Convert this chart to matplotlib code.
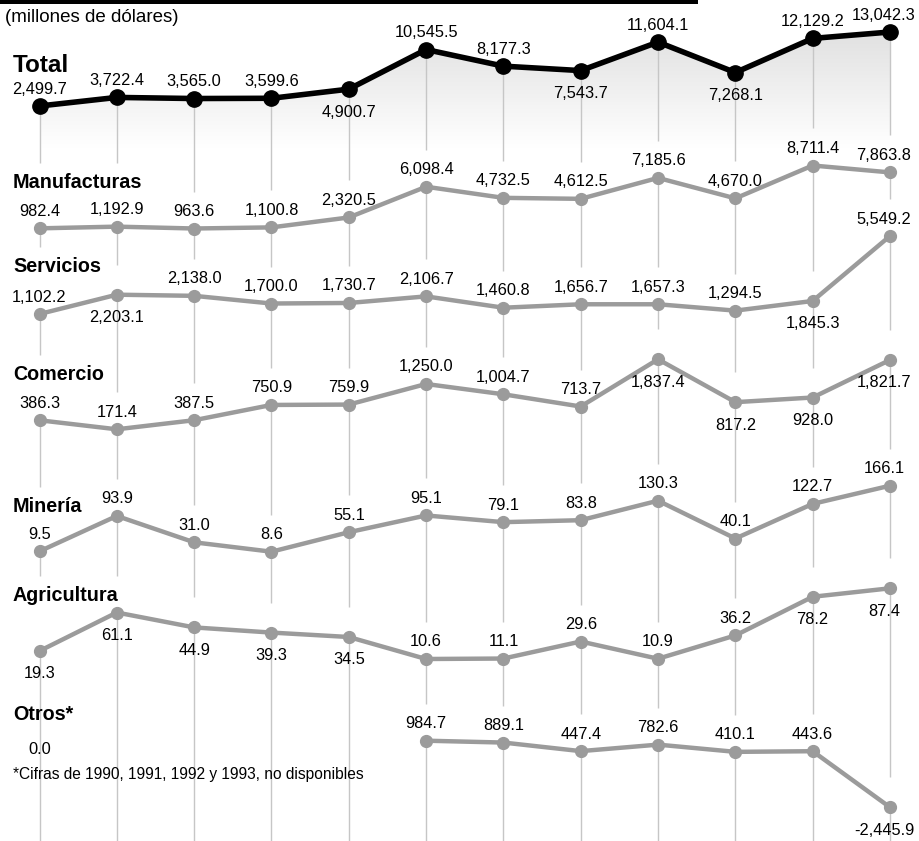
import numpy as np
import matplotlib.pyplot as plt
from matplotlib.patches import Rectangle, Polygon
from matplotlib.colors import LinearSegmentedColormap

plt.rcParams['font.family'] = ['Liberation Sans', 'DejaVu Sans']

# ---- data (millones de dolares) ----
years = list(range(1990, 2002))

total = [2499.7, 3722.4, 3565.0, 3599.6, 4900.7, 10545.5, 8177.3, 7543.7, 11604.1, 7268.1, 12129.2, 13042.3]
manufacturas = [982.4, 1192.9, 963.6, 1100.8, 2320.5, 6098.4, 4732.5, 4612.5, 7185.6, 4670.0, 8711.4, 7863.8]
servicios = [1102.2, 2203.1, 2138.0, 1700.0, 1730.7, 2106.7, 1460.8, 1656.7, 1657.3, 1294.5, 1845.3, 5549.2]
comercio = [386.3, 171.4, 387.5, 750.9, 759.9, 1250.0, 1004.7, 713.7, 1837.4, 817.2, 928.0, 1821.7]
mineria = [9.5, 93.9, 31.0, 8.6, 55.1, 95.1, 79.1, 83.8, 130.3, 40.1, 122.7, 166.1]
agricultura = [19.3, 61.1, 44.9, 39.3, 34.5, 10.6, 11.1, 29.6, 10.9, 36.2, 78.2, 87.4]
otros = [None, None, None, None, None, 984.7, 889.1, 447.4, 782.6, 410.1, 443.6, -2445.9]
otros_first = 0.0

subtitle = '(millones de dólares)'
footnote = '*Cifras de 1990, 1991, 1992 y 1993, no disponibles'

# ---- layout (pixels, measured from the top of the picture) ----
W, H = 920, 841
X_FIRST, X_LAST = 39.5, 890.0
px_per_year = (X_LAST - X_FIRST) / (years[-1] - years[0])
xlim = (years[0] - X_FIRST / px_per_year, years[-1] + (W - X_LAST) / px_per_year)

# title, values, label side (a = above, b = below), px of min value, px of max value, title baseline
rows = [
    ('Total', total, 'aaaabaababaa', 106.0, 32.0, 72),
    ('Manufacturas', manufacturas, 'aaaaaaaaaaaa', 228.5, 165.5, 188),
    ('Servicios', servicios, 'abaaaaaaaaba', 314.0, 236.0, 272),
    ('Comercio', comercio, 'aaaaaaaabbbb', 429.3, 359.3, 380),
    ('Minería', mineria, 'aaaaaaaaaaaa', 551.7, 485.7, 512),
    ('Agricultura', agricultura, 'bbbbbaaaaabb', 659.0, 588.3, 601),
    ('Otros*', otros, 'aaaaaaaaaaab', 807.3, 740.7, 720),
]

GRAY = '#9b9b9b'
GRID = '#c6c6c6'
ABOVE, BELOW = 17, 23

fig = plt.figure(figsize=(W / 100, H / 100), dpi=100)

axes, scales, titles = [], [], []
for title, vals, sides, pmin, pmax, tbase in rows:
    v = np.array([np.nan if x is None else x for x in vals], dtype=float)
    vmin, vmax = np.nanmin(v), np.nanmax(v)
    s = (pmin - pmax) / (vmax - vmin)
    ax = fig.add_axes([0, 0, 1, 1])
    axes.append(ax)
    scales.append((vmin, pmin, s))
    big = title == 'Total'
    ax.plot(years, v, color='black' if big else GRAY, lw=4.0 if big else 3.2,
            marker='o', ms=11 if big else 8.5, zorder=3, solid_joinstyle='round')
    for yr, val, side in zip(years, v, sides):
        if np.isnan(val):
            continue
        off = ABOVE if side == 'a' else -BELOW
        dx = -6 if yr == years[-1] else 0   # keep the last column inside the picture
        ax.annotate(f'{val:,.1f}', (yr, val), xytext=(dx, off), textcoords='offset pixels',
                    ha='center', va='center', fontsize=11.8, zorder=4)
    titles.append(fig.text(13 / W, 1 - tbase / H, title, fontsize=17.5 if big else 14.2,
                           fontweight='bold', va='baseline'))


def to_px(i, val):
    vmin, pmin, s = scales[i]
    return pmin - (val - vmin) * s


def to_data(i, px):
    vmin, pmin, s = scales[i]
    return vmin + (pmin - px) / s


# gradient under the total line
ax0 = axes[0]
g_top, g_bot = to_data(0, 32), to_data(0, 148)
cmap = LinearSegmentedColormap.from_list('fade', ['#e1e1e1', '#ffffff'])
im = ax0.imshow(np.linspace(0, 1, 256).reshape(-1, 1), cmap=cmap, origin='upper', aspect='auto',
                extent=(years[0], years[-1], g_bot, g_top), zorder=0)
poly = Polygon(list(zip(years, total)) + [(years[-1], g_bot), (years[0], g_bot)],
               closed=True, transform=ax0.transData, facecolor='none', edgecolor='none')
ax0.add_patch(poly)
im.set_clip_path(poly)

for ax, (vmin, pmin, s) in zip(axes, scales):
    ax.set_xlim(*xlim)
    ax.set_ylim(vmin - (H - pmin) / s, vmin + pmin / s)
    ax.axis('off')

# vertical guide lines: from each marker down to just above what sits below it
fig.canvas.draw()
renderer = fig.canvas.get_renderer()
title_boxes = [t.get_window_extent(renderer) for t in titles]

for i, (title, vals, sides, pmin, pmax, tbase) in enumerate(rows):
    xs, y0s, y1s = [], [], []
    for j, yr in enumerate(years):
        if vals[j] is None:
            continue
        start = to_px(i, vals[j])
        end = H
        if i + 1 < len(rows) and rows[i + 1][1][j] is not None:
            nxt = to_px(i + 1, rows[i + 1][1][j])
            end = nxt - 37 if rows[i + 1][2][j] == 'a' else nxt - 30
            bb = title_boxes[i + 1]
            xpx = X_FIRST + (yr - years[0]) * px_per_year
            if bb.x0 - 3 <= xpx <= bb.x1 + 3:
                end = min(end, H - bb.y1 - 10)
        xs.append(yr)
        y0s.append(to_data(i, start))
        y1s.append(to_data(i, end))
    axes[i].vlines(xs, y1s, y0s, color=GRID, lw=1.0, zorder=1)

# lonely "0.0" and notes for Otros
axes[-1].annotate(f'{otros_first:.1f}', (years[0], to_data(len(rows) - 1, 750)),
                  ha='center', va='center', fontsize=11.8)
fig.text(13 / W, 1 - 775 / H, footnote, fontsize=11.2, va='center')
fig.text(5 / W, 1 - 18 / H, subtitle, fontsize=13.5, va='center')
fig.add_artist(Rectangle((0, 1 - 4 / H), 698 / W, 4 / H, transform=fig.transFigure,
                         color='black', lw=0))

fig.savefig('out.png', dpi=100)
